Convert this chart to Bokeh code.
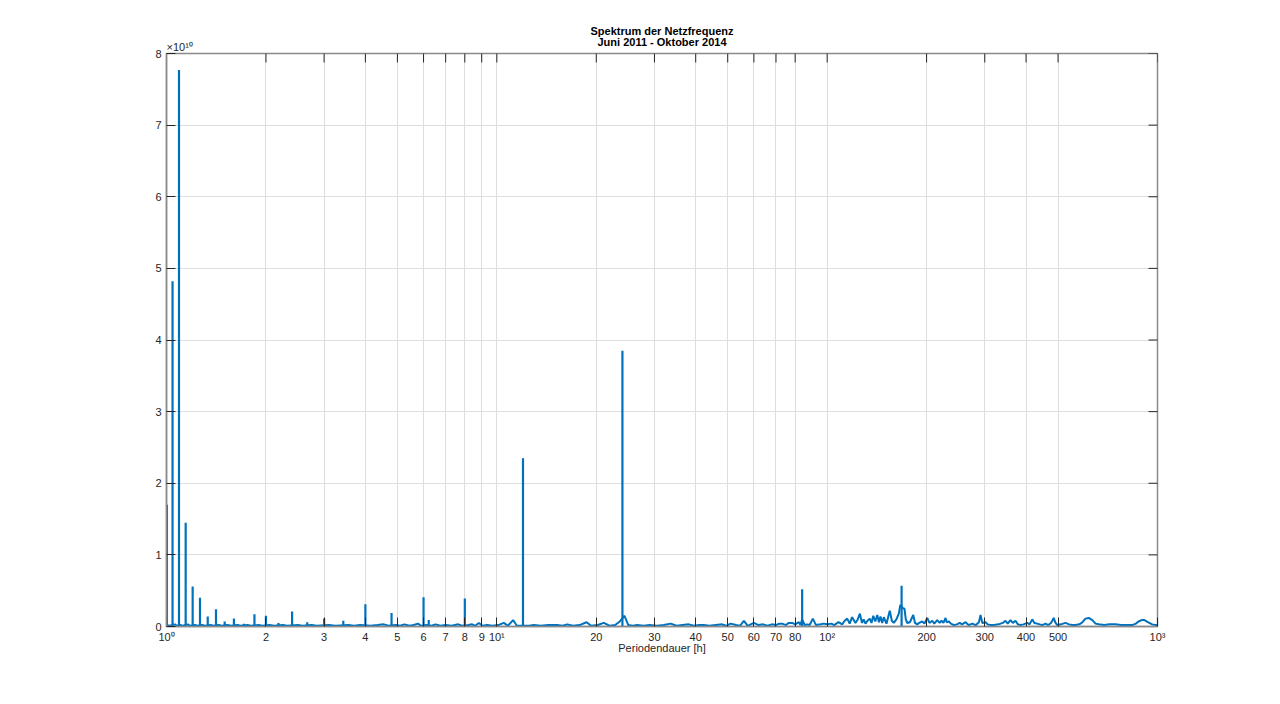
import math
from bokeh.plotting import figure
from bokeh.models import FixedTicker, Title, ColumnDataSource, Range1d
from bokeh.embed import file_html
from bokeh.resources import INLINE

# ---------------- data (power in units of 1e10) ----------------
title_1 = "Spektrum der Netzfrequenz"
title_2 = "Juni 2011 - Oktober 2014"
x_label = "Periodendauer [h]"
y_exponent = "×10¹⁰"

x_ticks = [1, 2, 3, 4, 5, 6, 7, 8, 9, 10, 20, 30, 40, 50, 60, 70, 80,
           100, 200, 300, 400, 500, 1000]
x_tick_labels = ["10⁰", "2", "3", "4", "5", "6", "7", "8", "9", "10¹",
                 "20", "30", "40", "50", "60", "70", "80",
                 "10²", "200", "300", "400", "500", "10³"]
y_ticks = [0, 1, 2, 3, 4, 5, 6, 7, 8]
y_tick_labels = ["0", "1", "2", "3", "4", "5", "6", "7", "8"]

# sharp spectral lines (harmonics of the daily / weekly cycle)
peak_period = [1.003, 1.043, 1.091, 1.143, 1.2, 1.263, 1.333, 1.412, 1.5,
               1.6, 1.714, 1.846, 2.0, 2.182, 2.4, 2.667, 3.0, 3.429, 4.0,
               4.8, 6.0, 6.22, 8.0, 12.0, 24.0, 84.0, 168.0]
peak_power = [1.70, 4.82, 7.77, 1.45, 0.56, 0.40, 0.14, 0.24, 0.07,
              0.11, 0.04, 0.17, 0.15, 0.05, 0.21, 0.06, 0.11, 0.08, 0.31,
              0.19, 0.41, 0.09, 0.39, 2.35, 3.85, 0.52, 0.57]

# continuous spectrum / noise floor
floor_period = [1.0, 1.02, 1.06, 1.075, 1.1, 1.12, 1.16, 1.18, 1.22, 1.24,
                1.28, 1.31, 1.36, 1.39, 1.44, 1.47, 1.53, 1.57, 1.64, 1.68,
                1.76, 1.8, 1.9, 1.95, 2.05, 2.12, 2.25, 2.32, 2.5, 2.58,
                2.75, 2.85, 3.1, 3.25, 3.55, 3.7, 3.85, 4.15, 4.35, 4.55,
                4.7, 4.95, 5.1, 5.25, 5.45, 5.6, 5.77, 5.9, 6.1, 6.35,
                6.52, 6.75, 7.0, 7.3, 7.64, 7.85, 8.2, 8.42, 8.6, 8.82,
                9.05, 9.35, 9.7, 10.1, 10.5, 10.8, 11.2, 11.5, 12.5, 12.94,
                13.6, 14.3, 15.23, 15.8, 16.33, 17.0, 17.8, 18.69, 19.3, 20.2,
                21.08, 22.0, 22.8, 23.57, 24.35, 25.0, 25.8, 26.6, 27.8, 29.0,
                30.5, 32.0, 33.6, 35.0, 36.5, 38.1, 39.5, 41.0, 42.3, 44.0,
                46.0, 48.1, 49.5, 51.0, 53.0, 54.5, 55.96, 57.5, 59.97, 62.0,
                64.0, 66.0, 68.0, 70.0, 71.5, 73.1, 75.0, 76.5, 78.4, 80.0,
                82.1, 83.0, 84.0, 85.5, 87.0, 88.5, 90.5, 92.5, 95.5, 97.7,
                100.0, 103.0, 105.0, 108.2, 111.0, 113.0, 115.0, 117.0, 119.0, 121.8,
                123.5, 125.6, 127.5, 129.0, 130.6, 132.5, 134.6, 136.2, 137.9, 139.8,
                141.8, 143.4, 145.0, 146.8, 148.4, 151.2, 154.7, 157.0, 159.1, 162.0,
                164.8, 166.5, 170.0, 171.4, 173.0, 174.7, 178.0, 182.2, 184.5, 187.3,
                190.0, 194.0, 197.0, 200.9, 204.0, 208.0, 211.0, 215.3, 219.0, 222.0,
                225.0, 228.2, 230.0, 233.5, 237.0, 241.8, 247.0, 252.0, 256.0, 262.4,
                268.0, 275.0, 282.0, 288.0, 291.2, 295.0, 301.6, 306.0, 312.2, 320.0,
                330.0, 340.0, 346.7, 352.0, 358.9, 365.0, 371.6, 378.0, 384.8, 393.0,
                403.3, 410.0, 417.5, 424.0, 432.4, 440.0, 448.0, 458.1, 467.0, 476.0,
                485.4, 490.0, 497.0, 510.0, 526.6, 540.0, 552.0, 564.7, 580.0, 592.9,
                605.0, 619.5, 635.0, 649.2, 664.3, 690.0, 715.0, 746.4, 775.0, 805.0,
                838.2, 860.0, 876.0, 895.0, 913.4, 935.0, 963.8, 985.0, 1000.0]
floor_power = [0.02, 0.01, 0.03, 0.01, 0.02, 0.01, 0.03, 0.01, 0.02, 0.01,
               0.02, 0.01, 0.02, 0.01, 0.02, 0.01, 0.02, 0.01, 0.02, 0.01,
               0.02, 0.01, 0.02, 0.01, 0.02, 0.01, 0.02, 0.01, 0.02, 0.01,
               0.02, 0.01, 0.02, 0.01, 0.02, 0.01, 0.02, 0.01, 0.02, 0.03,
               0.01, 0.02, 0.01, 0.03, 0.01, 0.02, 0.04, 0.01, 0.02, 0.01,
               0.03, 0.01, 0.02, 0.01, 0.03, 0.01, 0.02, 0.03, 0.01, 0.05,
               0.01, 0.02, 0.01, 0.02, 0.05, 0.01, 0.09, 0.01, 0.01, 0.02,
               0.01, 0.02, 0.02, 0.01, 0.03, 0.01, 0.02, 0.06, 0.01, 0.02,
               0.05, 0.01, 0.02, 0.07, 0.15, 0.02, 0.01, 0.02, 0.01, 0.02,
               0.01, 0.02, 0.04, 0.01, 0.02, 0.03, 0.01, 0.02, 0.02, 0.01,
               0.02, 0.03, 0.01, 0.04, 0.02, 0.01, 0.08, 0.01, 0.05, 0.02,
               0.03, 0.01, 0.03, 0.02, 0.04, 0.04, 0.02, 0.05, 0.05, 0.03,
               0.06, 0.02, 0.10, 0.02, 0.03, 0.02, 0.11, 0.02, 0.03, 0.04,
               0.03, 0.04, 0.02, 0.06, 0.03, 0.08, 0.11, 0.04, 0.13, 0.05,
               0.09, 0.18, 0.05, 0.10, 0.04, 0.08, 0.11, 0.05, 0.15, 0.07,
               0.16, 0.06, 0.14, 0.05, 0.13, 0.04, 0.22, 0.08, 0.05, 0.10,
               0.18, 0.30, 0.25, 0.25, 0.10, 0.05, 0.06, 0.16, 0.05, 0.03,
               0.05, 0.07, 0.04, 0.12, 0.05, 0.08, 0.04, 0.09, 0.05, 0.08,
               0.05, 0.12, 0.06, 0.07, 0.04, 0.02, 0.03, 0.05, 0.03, 0.06,
               0.02, 0.04, 0.02, 0.06, 0.16, 0.05, 0.06, 0.03, 0.02, 0.02,
               0.03, 0.05, 0.08, 0.04, 0.09, 0.05, 0.08, 0.03, 0.02, 0.03,
               0.05, 0.03, 0.10, 0.05, 0.04, 0.03, 0.02, 0.04, 0.02, 0.05,
               0.12, 0.06, 0.02, 0.03, 0.05, 0.03, 0.02, 0.02, 0.03, 0.06,
               0.11, 0.12, 0.09, 0.04, 0.03, 0.02, 0.03, 0.03, 0.02, 0.02,
               0.02, 0.04, 0.07, 0.09, 0.09, 0.06, 0.03, 0.02, 0.02]

# ---------------- styling constants ----------------
FONT = "Liberation Sans"
LINE_COLOR = "#0072BD"
TEXT_COLOR = "#262626"
FRAME_COLOR = "#8a8a8a"
GRID_COLOR = "#dedede"
TICK_LEN = 9

p = figure(frame_width=991, frame_height=573,
           x_axis_type="log", x_range=Range1d(1, 1000), y_range=Range1d(0, 8),
           output_backend="svg", toolbar_location=None,
           min_border_left=166, min_border_right=110,
           min_border_top=53, min_border_bottom=70,
           background_fill_color="white", border_fill_color="white")

p.outline_line_color = FRAME_COLOR
p.outline_line_width = 1.5

# grids
p.xgrid.ticker = FixedTicker(ticks=x_ticks, minor_ticks=[])
p.ygrid.ticker = FixedTicker(ticks=y_ticks, minor_ticks=[])
for g in (p.xgrid, p.ygrid):
    g.grid_line_color = GRID_COLOR
    g.grid_line_width = 1

def style_axis(ax):
    ax.axis_line_color = FRAME_COLOR
    ax.axis_line_width = 1.5
    ax.major_tick_in = TICK_LEN
    ax.major_tick_out = 0
    ax.major_tick_line_color = TEXT_COLOR
    ax.major_tick_line_width = 1
    ax.minor_tick_line_color = None
    ax.major_label_text_font = FONT
    ax.major_label_text_color = TEXT_COLOR
    ax.major_label_text_font_size = "11px"

# bottom x axis
xa = p.xaxis[0]
xa.ticker = FixedTicker(ticks=x_ticks, minor_ticks=[])
xa.major_label_overrides = {float(t): l for t, l in zip(x_ticks, x_tick_labels)}
style_axis(xa)
xa.major_label_standoff = 4
xa.axis_label = x_label
xa.axis_label_text_font = FONT
xa.axis_label_text_font_size = "11px"
xa.axis_label_text_font_style = "normal"
xa.axis_label_text_color = TEXT_COLOR
xa.axis_label_standoff = -4

# left y axis
ya = p.yaxis[0]
ya.ticker = FixedTicker(ticks=y_ticks, minor_ticks=[])
ya.major_label_overrides = {float(t): l for t, l in zip(y_ticks, y_tick_labels)}
style_axis(ya)
ya.major_label_standoff = 5

# mirrored tick marks on top and right edge (half of each dash is clipped by the frame)
p.scatter(x=x_ticks, y=[y_ticks[-1]] * len(x_ticks), marker="dash",
          size=2 * TICK_LEN, angle=math.pi / 2, line_color=TEXT_COLOR, line_width=1)
p.scatter(x=[x_ticks[-1]] * len(y_ticks), y=y_ticks, marker="dash",
          size=2 * TICK_LEN, angle=0, line_color=TEXT_COLOR, line_width=1)

# exponent of the y axis (nearest to the frame, left aligned), then the two title lines
p.add_layout(Title(text=y_exponent, align="left", text_font=FONT,
                   text_font_size="11px", text_font_style="normal",
                   text_color=TEXT_COLOR, standoff=0.5, offset=0), "above")
p.add_layout(Title(text=title_2, align="center", text_font=FONT,
                   text_font_size="11px", text_font_style="bold",
                   text_color="black", standoff=-19, offset=0), "above")
p.add_layout(Title(text=title_1, align="center", text_font=FONT,
                   text_font_size="11px", text_font_style="bold",
                   text_color="black", standoff=3.5, offset=0), "above")

# data
peaks = ColumnDataSource(dict(period=peak_period, power=peak_power,
                              base=[0.0] * len(peak_period)))
p.line(floor_period, floor_power, line_width=2, line_color=LINE_COLOR)
p.segment(x0="period", y0="base", x1="period", y1="power", source=peaks,
          line_width=2.2, line_color=LINE_COLOR)

open("out.html", "w").write(file_html(p, INLINE))
